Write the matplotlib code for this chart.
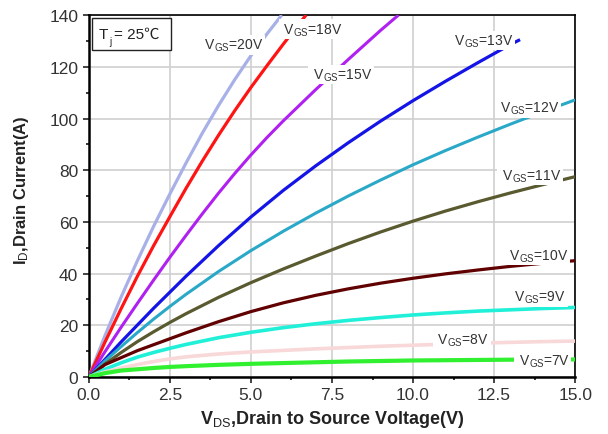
import matplotlib
matplotlib.use("Agg")
import matplotlib.pyplot as plt
from matplotlib.patches import Rectangle
from matplotlib.ticker import MultipleLocator

plt.rcParams['font.family'] = ['Liberation Sans', 'DejaVu Sans']
plt.rcParams['mathtext.fontset'] = 'custom'
plt.rcParams['mathtext.rm'] = 'Liberation Sans'
plt.rcParams['mathtext.it'] = 'Liberation Sans'
plt.rcParams['mathtext.bf'] = 'Liberation Sans:bold'

# output curves: VDS (V) and ID (A) for each VGS
vds_20 = [0, 0.5, 1, 1.5, 2, 2.5, 3, 3.5, 4, 4.5, 5, 5.5, 5.95]
id_20 = [0, 16, 31, 45, 58.3, 70.8, 82.8, 94.3, 105, 115, 124.3, 132.8, 140]

vds_18 = [0, 0.5, 1, 1.5, 2, 2.5, 3, 3.5, 4, 4.5, 5, 5.5, 6, 6.5, 6.7]
id_18 = [0, 13.5, 26.5, 39, 50.8, 62, 73, 83.5, 93.5, 103, 112, 120.5, 128.8, 136.8, 140]

vds_15 = [0, 0.5, 1, 1.5, 2, 2.5, 3, 3.5, 4, 4.5, 5, 5.5, 6, 7, 8, 9, 9.55]
id_15 = [0, 9.8, 19.3, 28.5, 37.5, 46.3, 54.8, 63.1, 71.1, 78.7, 85.9, 92.7, 99.1, 111.2, 122.8, 134.1, 140]

vds_13 = [0, 1, 2, 3, 4, 5, 6, 7, 8, 9, 10, 11, 12, 13, 13.3]
id_13 = [0, 13.6, 26.6, 39, 50.8, 61.9, 72.2, 81.7, 90.6, 99, 106.9, 114.4, 121.6, 128.6, 130.5]

vds = [0, 0.5, 1, 1.5, 2, 2.5, 3, 4, 5, 6, 7, 8, 9, 10, 11, 12, 13, 14, 15]
id_12 = [0, 6.2, 11.8, 17.2, 22.4, 27.3, 32, 40.8, 48.9, 56.4, 63.4, 70, 76.2, 82.1, 87.6, 92.8, 97.8, 102.6, 107.2]
id_11 = [0, 5, 9.5, 13.7, 17.5, 21.1, 24.5, 30.8, 36.5, 41.8, 46.8, 51.6, 56.1, 60.3, 64.2, 67.8, 71.2, 74.4, 77.5]
id_10 = [0, 4.8, 7.5, 10.2, 12.5, 14.8, 17.1, 21.4, 25.3, 28.7, 31.6, 34.1, 36.3, 38.2, 39.9, 41.4, 42.8, 44, 45]
id_9 = [0, 3, 5.5, 7.7, 9.5, 11.1, 12.6, 15.2, 17.3, 19.1, 20.6, 21.9, 23, 24, 24.8, 25.5, 26, 26.5, 26.9]
id_8 = [0, 2, 3.5, 4.8, 6, 7, 7.8, 8.9, 9.7, 10.3, 10.9, 11.4, 11.9, 12.3, 12.7, 13.1, 13.4, 13.7, 13.9]
id_7 = [0, 1.5, 2.5, 3, 3.5, 3.9, 4.2, 4.7, 5.1, 5.4, 5.7, 6, 6.2, 6.4, 6.5, 6.6, 6.7, 6.75, 6.8]

# (x, y, colour, line width, label, label right edge x, label y)
curves = [
    (vds_20, id_20, '#a8b0e8', 2.3, '20V', 5.38, 128.5),
    (vds_18, id_18, '#ff1414', 2.3, '18V', 7.83, 134.5),
    (vds_15, id_15, '#b020f0', 2.2, '15V', 8.75, 117),
    (vds_13, id_13, '#1414e6', 2.3, '13V', 13.08, 130.2),
    (vds, id_12, '#2aa8c8', 2.2, '12V', 14.51, 104),
    (vds, id_11, '#5a5a30', 2.3, '11V', 14.57, 78),
    (vds, id_10, '#600000', 2.3, '10V', 14.78, 47),
    (vds, id_9, '#20f0d8', 2.6, '9V', 14.72, 31),
    (vds, id_8, '#f8d8d8', 2.6, '8V', 12.34, 14.3),
    (vds, id_7, '#30f030', 3.0, '7V', 14.82, 6.2),
]

fig = plt.figure(figsize=(6.08, 4.35), dpi=100)
ax = fig.add_axes([0.146, 0.131, 0.8, 0.832])

for x, y, c, lw, lab, tx, ty in curves:
    ax.plot(x, y, color=c, lw=lw, solid_capstyle='butt', zorder=3)
    ax.text(tx, ty, r' V$_{\rm GS}$=' + lab, fontsize=10, color='#333333',
            ha='right', va='center', zorder=4,
            bbox=dict(boxstyle='square,pad=0.12', fc='white', ec='none'))

# Tj box
ax.add_patch(Rectangle((0.093, 126.4), 2.44, 12.4, fc='white', ec='#222222',
                       lw=1, zorder=5))
ax.text(0.31, 131.2, 'T', fontsize=11, color='#222222', va='baseline', zorder=6)
ax.text(0.62, 129.0, 'j', fontsize=7, color='#222222', va='baseline', zorder=6)
ax.text(0.79, 131.2, '= 25℃', fontsize=11, color='#222222', va='baseline',
        zorder=6, family=['Liberation Sans', 'Noto Sans CJK SC'])

ax.set_xlim(0, 15)
ax.set_ylim(0, 140)
ax.set_xticks([0, 2.5, 5, 7.5, 10, 12.5, 15])
ax.set_xticklabels(['0.0', '2.5', '5.0', '7.5', '10.0', '12.5', '15.0'])
ax.xaxis.set_minor_locator(MultipleLocator(1.25))
ax.yaxis.set_major_locator(MultipleLocator(20))
ax.yaxis.set_minor_locator(MultipleLocator(10))
ax.grid(True, which='major', color='#d0d0d0', lw=1.2, zorder=0)
ax.tick_params(which='major', direction='out', length=4.5, width=1.1, pad=3,
               labelsize=12.5, colors='#111111', labelcolor='#333333')
ax.tick_params(which='minor', direction='out', length=2.5, width=1.1)

for side in ['left', 'bottom']:
    ax.spines[side].set_linewidth(1.8)
for side in ['top', 'right']:
    ax.spines[side].set_linewidth(1.2)

ax.set_xlabel(r'V$_{\rm DS}$,Drain to Source Voltage(V)', fontsize=13,
              fontweight='bold', color='#222222')
ax.set_ylabel(r'I$_{\rm D}$,Drain Current(A)', fontsize=12,
              fontweight='bold', color='#222222')
ax.xaxis.set_label_coords(0.5, -0.085)
ax.yaxis.set_label_coords(-0.118, 0.52)

fig.savefig('out.png', dpi=100)
